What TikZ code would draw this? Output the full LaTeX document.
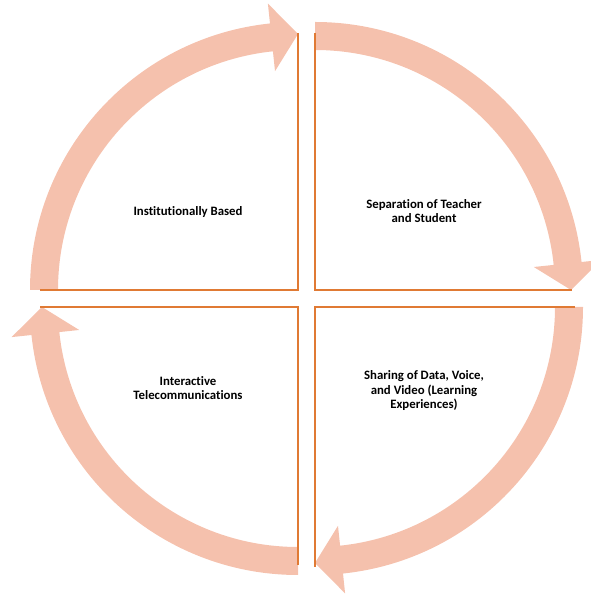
\documentclass[tikz,border=0pt]{standalone}
\usepackage{fontspec}
\setmainfont{Carlito}[Ligatures=NoCommon]
\definecolor{peach}{RGB}{245,193,173}
\definecolor{rust}{RGB}{224,122,52}

\begin{document}
\begin{tikzpicture}[x=1pt,y=1pt]
\useasboundingbox (0,0) rectangle (591,594);
\clip (0,0) rectangle (591,594);
\tikzset{lbl/.style={align=center,font=\fontsize{12.8}{14.5}\selectfont\bfseries}}
% curved arrows
\fill[peach,shift={(298,304)}] (180:268) arc[start angle=180,end angle=96,radius=268] -- (96:288) -- (90:256) -- (96:220) -- (96:240) arc[start angle=96,end angle=180,radius=240] -- cycle;
\fill[peach,shift={(315,304)}] (90:268) arc[start angle=90,end angle=6,radius=268] -- (6:288) -- (0:256) -- (6:220) -- (6:240) arc[start angle=6,end angle=90,radius=240] -- cycle;
\fill[peach,shift={(315,287)}] (0:268) arc[start angle=0,end angle=-84,radius=268] -- (-84:288) -- (-90:256) -- (-84:220) -- (-84:240) arc[start angle=-84,end angle=0,radius=240] -- cycle;
\fill[peach,shift={(298,287)}] (270:268) arc[start angle=270,end angle=186,radius=268] -- (186:288) -- (180:256) -- (186:220) -- (186:240) arc[start angle=186,end angle=270,radius=240] -- cycle;
% quadrant corners
\draw[rust,line width=2pt] (40,304) -- (298,304) -- (298,561);
\draw[rust,line width=2pt] (315,561) -- (315,304) -- (572,304);
\draw[rust,line width=2pt] (575,287) -- (315,287) -- (315,27);
\draw[rust,line width=2pt] (298,29) -- (298,287) -- (40,287);
% labels
\node[lbl] (based) at (188,382) {Institutionally Based};
\node[lbl] (separation) at (424,383) {Separation of Teacher\\and Student};
\node[lbl] (sharing) at (424,203) {Sharing of Data, Voice,\\and Video (Learning\\Experiences)};
\node[lbl] (interactive) at (188,206) {Interactive\\Telecommunications};
\end{tikzpicture}
\end{document}
